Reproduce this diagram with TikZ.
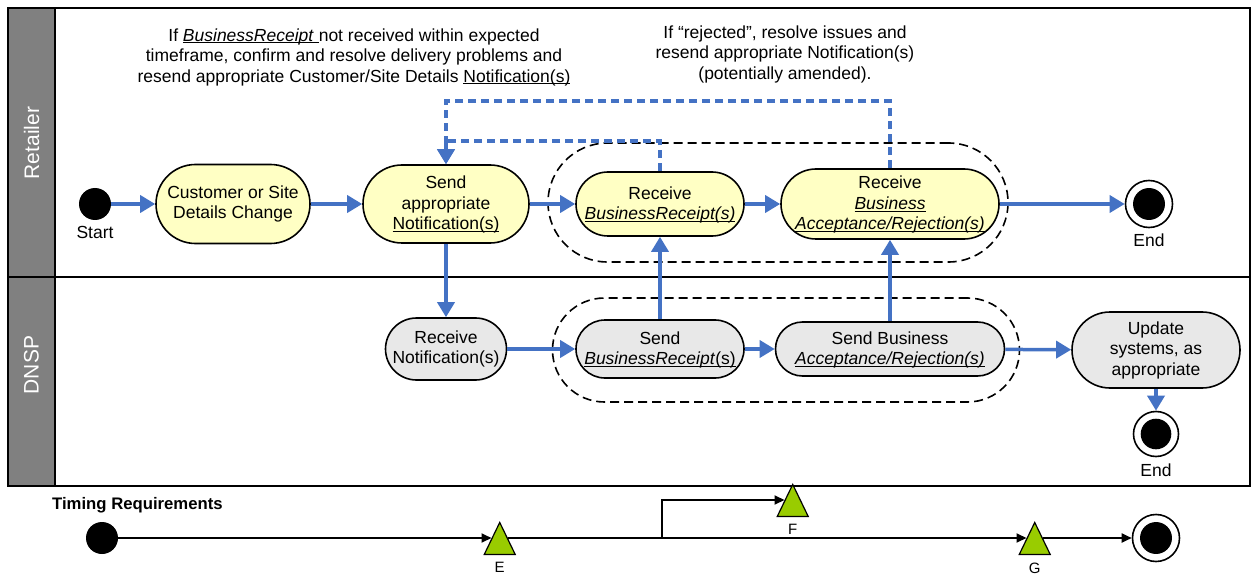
\documentclass[tikz,border=0pt]{standalone}
\usepackage{fontspec}
\setmainfont{Liberation Sans}
\setsansfont{Liberation Sans}
\usepackage{tikz}
\usetikzlibrary{positioning,arrows.meta,shapes.geometric,calc}
\definecolor{azul}{HTML}{4472C4}
\definecolor{crema}{HTML}{FFFFC4}
\definecolor{gris}{HTML}{E8E8E8}
\definecolor{carril}{HTML}{808080}
\definecolor{verde}{HTML}{99CC00}
\newcommand{\subraya}[1]{\underline{\smash{#1}}}
\tikzset{
  caja/.style={rectangle,draw=black,line width=1.6pt,align=center,inner sep=0pt,
    font=\fontsize{17.5}{20.5}\selectfont},
  paso/.style={caja,fill=crema,minimum height=2*#1,rounded corners=#1},
  pasod/.style={caja,fill=gris,minimum height=2*#1,rounded corners=#1},
  grupo/.style={rectangle,draw=black,line width=1.6pt,dash pattern=on 9pt off 5pt,minimum height=2*#1,rounded corners=#1},
  flecha/.style={-{Triangle[length=15pt,width=17pt]},line width=3.5pt,color=azul},
  flechad/.style={-{Triangle[length=15pt,width=17pt]},line width=3.5pt,color=azul,dash pattern=on 8pt off 5pt},
  etiqueta/.style={font=\fontsize{17.5}{20.5}\selectfont,align=center,inner sep=1pt},
  carrilcab/.style={rotate=90,text=white,font=\fontsize{21}{24}\selectfont},
  inicio/.style={circle,fill=black,minimum size=#1,inner sep=0pt},
  final/.style={circle,draw=black,line width=1.6pt,fill=white,minimum size=#1,inner sep=0pt,
    path picture={\fill[black] (path picture bounding box.center) circle (0.34*#1);}},
  tiempo/.style={-{Triangle[length=10pt,width=9pt]},line width=1.8pt,color=black},
  hito/.style={isosceles triangle,shape border rotate=90,isosceles triangle stretches,draw=black,
    fill=verde,minimum width=31pt,minimum height=32pt,inner sep=0pt,line width=1.2pt,anchor=left side},
  letra/.style={font=\fontsize{15}{18}\selectfont,inner sep=1pt},
}

\begin{document}
\begin{tikzpicture}[x=1pt,y=-1pt]
  \useasboundingbox (0,0) rectangle (1252,577);
  % carriles
  \fill[carril] (8,8) rectangle (55,486);
  \draw[line width=1.8pt] (8,8) rectangle (1250,486);
  \draw[line width=1.8pt] (55,8) -- (55,486);
  \draw[line width=1.8pt] (8,277) -- (1250,277);
  \node[carrilcab] (lret) at (31.5,143) {Retailer};
  \node[carrilcab] (ldnsp) at (31.5,365) {DNSP};

  % grupos
  \node[grupo=59.5pt,minimum width=460pt] (gret) at (778,202.5) {};
  \node[grupo=52pt,minimum width=467pt] (gdnsp) at (786,350) {};

  % Retailer
  \node[inicio=32pt] (ini) at (95,204) {};
  \node[etiqueta,below=5pt of ini] (inil) {Start};
  \node[paso=39.5pt,minimum width=154pt] (cambio) at (233,204) {Customer or Site\\Details Change};
  \node[paso=39pt,minimum width=166pt] (envnot) at (446,204) {Send\\appropriate\\\subraya{Notification(s)}};
  \node[paso=32pt,minimum width=168pt] (recbr) at (660,204) {Receive\\\subraya{\textit{BusinessReceipt(s)}}};
  \node[paso=35pt,minimum width=218pt] (recbar) at (890,204) {Receive\\\subraya{\textit{Business}}\\\subraya{\textit{Acceptance/Rejection(s)}}};
  \node[final=47pt] (fin1) at (1149,204) {};
  \node[etiqueta,below=4pt of fin1] (fin1l) {End};

  \node[etiqueta] (nota1) at (354,57) {If \subraya{\textit{BusinessReceipt}\ }not received within expected\\timeframe, confirm and resolve delivery problems and\\resend appropriate Customer/Site Details \subraya{Notification(s)}};
  \node[etiqueta] (nota2) at (785,54) {If “rejected”, resolve issues and\\resend appropriate Notification(s)\\(potentially amended).};

  % DNSP
  \node[pasod=31pt,minimum width=121pt] (recnot) at (446,349) {Receive\\Notification(s)};
  \node[pasod=29pt,minimum width=168pt] (envbr) at (660,349) {Send\\\subraya{\textit{BusinessReceipt}(s)}};
  \node[pasod=27pt,minimum width=229pt] (envbar) at (890,349) {Send Business\\\subraya{\textit{Acceptance/Rejection(s)}}};
  \node[pasod=38pt,minimum width=168pt] (act) at (1156,350) {Update\\systems, as\\appropriate};
  \node[final=45pt] (fin2) at (1156,434) {};
  \node[etiqueta,below=5pt of fin2] (fin2l) {End};

  \draw[flecha] (ini) -- (cambio);
  \draw[flecha] (cambio) -- (envnot);
  \draw[flecha] (envnot) -- (recbr);
  \draw[flecha] (recbr) -- (recbar);
  \draw[flecha] (recbar) -- (fin1);
  \draw[flecha] (envnot) -- (recnot);
  \draw[flecha] (recnot) -- (envbr);
  \draw[flecha] (envbr) -- (envbar);
  \draw[flecha] (envbar) -- (act);
  \draw[flecha] (act) -- (fin2);
  \draw[flecha] (envbr) -- (recbr);
  \draw[flecha] (envbar) -- (recbar);
  \draw[flechad] (recbr.north) -- ++(0,-30) -| (envnot.north);
  \draw[flechad] (recbar.north) -- ++(0,-67) -| (envnot.north);

  % Timing
  \node[font=\bfseries\fontsize{16.7}{19}\selectfont,anchor=west,inner sep=0pt] (treq) at (52,505) {Timing Requirements};
  \node[inicio=32pt] (tini) at (102,538) {};
  \node[hito] (he) at (491.5,538) {};
  \node[letra,below=6pt of he] (hel) {E};
  \node[hito] (hf) at (784.5,500) {};
  \node[letra,below=6pt of hf] (hfl) {F};
  \node[hito] (hg) at (1026.5,538) {};
  \node[letra,below=7pt of hg] (hgl) {G};
  \node[final=47pt] (tfin) at (1156,538) {};
  \coordinate (rama) at (662,538);
  \draw[tiempo] (tini) -- (he.left side);
  \draw[tiempo] (he.right side) -- (hg.left side);
  \draw[tiempo] (rama) |- (hf.left side);
  \draw[tiempo] (hg.right side) -- (tfin);
\end{tikzpicture}
\end{document}
